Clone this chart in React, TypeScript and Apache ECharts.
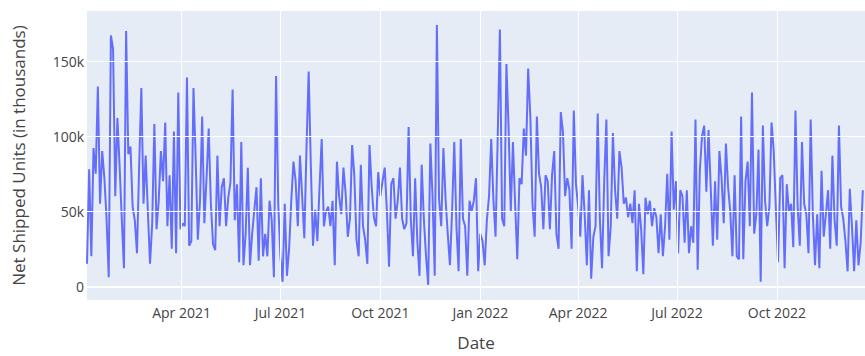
import React, { useEffect, useRef } from "react";
import * as echarts from "echarts";

// Net shipped units (thousands), one reading every 2 days starting 4 Jan 2021
const unitsJanMar2021 = [
  15, 78, 20, 92, 75, 133, 55, 90, 72, 45,
  6, 167, 158, 60, 112, 80, 45, 12, 170, 88,
  93, 53, 44, 22, 80, 132, 55, 87, 50, 15,
  42, 108, 38, 57, 90, 70, 109, 40, 74, 25,
  103, 22, 129, 38, 42, 40,
];
const unitsAprJun2021 = [
  139, 27, 30, 132, 85, 31, 57, 113, 42, 72,
  105, 55, 28, 24, 87, 40, 66, 72, 40, 59,
  69, 131, 44, 68, 16, 96, 14, 35, 79, 14,
  35, 51, 66, 17, 72, 20, 35, 20, 57, 44,
  6, 140, 55,
];
const unitsJulSep2021 = [
  20, 3, 55, 7, 25, 57, 83, 70, 40, 87,
  60, 32, 92, 143, 80, 27, 51, 30, 66, 98,
  40, 50, 53, 40, 57, 14, 83, 60, 48, 79,
  62, 33, 45, 94, 74, 31, 20, 81, 40, 31,
  15, 94, 66, 46, 40,
];
const unitsOctDec2021 = [
  76, 60, 70, 79, 50, 13, 68, 72, 45, 57,
  79, 45, 38, 42, 106, 45, 20, 72, 30, 7,
  81, 45, 20, 1, 95, 60, 7, 174, 58, 40,
  92, 58, 35, 14, 50, 96, 40, 10, 98, 45,
  40, 7, 57, 50,
];
const unitsJanMar2022 = [
  57, 72, 10, 35, 30, 14, 44, 60, 98, 58,
  33, 100, 171, 45, 40, 148, 105, 50, 96, 55,
  18, 72, 68, 105, 87, 145, 113, 55, 33, 113,
  75, 66, 38, 74, 70, 38, 74, 90, 35, 25,
  116, 103, 60,
];
const unitsAprJun2022 = [
  72, 64, 25, 117, 68, 53, 33, 74, 48, 14,
  64, 5, 33, 40, 115, 45, 12, 70, 111, 20,
  40, 102, 64, 45, 90, 79, 55, 59, 46, 55,
  42, 64, 10, 55, 38, 8, 59, 48, 57, 40,
  52, 46, 22, 48,
];
const unitsJulSep2022 = [
  20, 40, 75, 31, 103, 51, 70, 22, 64, 60,
  29, 64, 22, 40, 29, 111, 11, 77, 100, 107,
  63, 104, 66, 27, 70, 31, 90, 72, 42, 95,
  66, 50, 20, 74, 20, 18, 113, 18, 70, 83,
  40, 129, 35, 48,
];
const unitsOctDec2022 = [
  91, 3, 107, 57, 40, 53, 109, 90, 51, 16,
  72, 74, 12, 68, 50, 55, 26, 117, 53, 27,
  96, 55, 48, 22, 111, 48, 14, 48, 12, 77,
  33, 48, 64, 25, 87, 44, 27, 107, 53, 45,
  30, 10, 65, 40, 10, 44, 14, 29, 64,
];

const netShipped = [
  ...unitsJanMar2021,
  ...unitsAprJun2021,
  ...unitsJulSep2021,
  ...unitsOctDec2021,
  ...unitsJanMar2022,
  ...unitsAprJun2022,
  ...unitsJulSep2022,
  ...unitsOctDec2022,
];

const firstDay = [2021, 0, 4];
const stepDays = 2;
const dates = netShipped.map((_, i) =>
  new Date(firstDay[0], firstDay[1], firstDay[2] + i * stepDays).getTime()
);

const xTickMonths: [number, number][] = [
  [2021, 3], [2021, 6], [2021, 9], [2022, 0], [2022, 3], [2022, 6], [2022, 9],
];
const xTicks = xTickMonths.map(([y, m]) => new Date(y, m, 1).getTime());
const yTicks = [0, 50, 100, 150];
const monthNames = ["Jan", "Feb", "Mar", "Apr", "May", "Jun", "Jul", "Aug", "Sep", "Oct", "Nov", "Dec"];

const xMin = new Date(2021, 0, 4).getTime();
const xMax = new Date(2022, 11, 21).getTime();

export default function App() {
  const ref = useRef<HTMLDivElement>(null);
  useEffect(() => {
    if (!ref.current) return;
    const chart = echarts.init(ref.current, null, { renderer: "svg" });
    const font = "'Open Sans', verdana, arial, sans-serif";
    const textColor = "#444";
    const seriesData = dates.map((t, i) => [t, netShipped[i]]);
    chart.setOption({
      animation: false,
      grid: {
        left: 87,
        right: 0,
        top: 11,
        bottom: 49,
        show: true,
        backgroundColor: "#E5ECF6",
        borderWidth: 0,
      },
      xAxis: {
        type: "value",
        min: xMin,
        max: xMax,
        scale: true,
        name: "Date",
        nameLocation: "middle",
        nameGap: 34,
        nameTextStyle: { fontFamily: font, fontSize: 17, color: textColor },
        axisLine: { show: false },
        axisTick: { show: false },
        splitLine: { show: false },
        axisLabel: {
          customValues: xTicks,
          margin: 5,
          fontFamily: font,
          fontSize: 14,
          color: textColor,
          hideOverlap: false,
          formatter: (v: number) => {
            const d = new Date(v);
            return monthNames[d.getMonth()] + " " + d.getFullYear();
          },
        },
      },
      yAxis: {
        type: "value",
        min: -9.1,
        max: 183.3,
        name: "Net Shipped Units (in thousands)",
        nameLocation: "middle",
        nameGap: 60,
        nameTextStyle: { fontFamily: font, fontSize: 17, color: textColor },
        axisLine: { show: false },
        axisTick: { show: false },
        splitLine: { show: false },
        axisLabel: {
          customValues: yTicks,
          margin: 3,
          fontFamily: font,
          fontSize: 14,
          color: textColor,
          formatter: (v: number) => (v === 0 ? "0" : v + "k"),
        },
      },
      series: [
        {
          type: "line",
          z: 1,
          data: seriesData,
          showSymbol: false,
          silent: true,
          lineStyle: { opacity: 0 },
          markLine: {
            silent: true,
            symbol: "none",
            label: { show: false },
            lineStyle: { color: "#ffffff", type: "solid", width: 1, opacity: 1 },
            data: [
              ...yTicks.map((v) => ({ yAxis: v, lineStyle: { width: v === 0 ? 2 : 1, color: "#ffffff", type: "solid" } })),
              ...xTicks.map((t) => ({ xAxis: t })),
            ],
          },
        },
        {
          type: "line",
          z: 3,
          data: seriesData,
          showSymbol: false,
          lineStyle: { color: "#636efa", width: 2 },
          itemStyle: { color: "#636efa" },
        },
      ],
    });
    return () => chart.dispose();
  }, []);
  return (
    <div
      ref={ref}
      style={{ position: "fixed", left: 0, top: 0, width: 865, height: 356, background: "#fff" }}
    />
  );
}
